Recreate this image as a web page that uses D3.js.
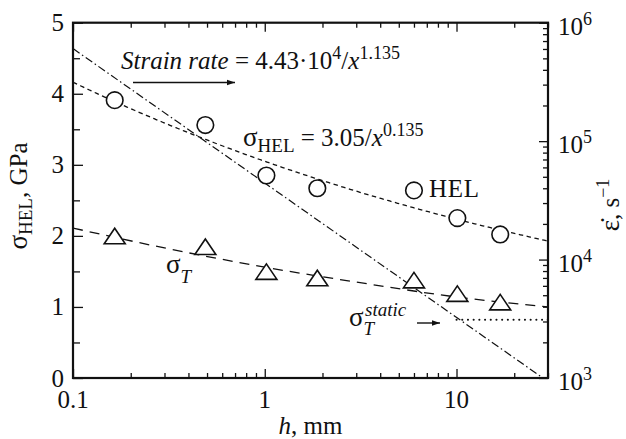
<!DOCTYPE html>
<html>
<head>
<meta charset="utf-8">
<script src="https://cdn.jsdelivr.net/npm/d3@7"></script>
<style>
  html, body { margin: 0; padding: 0; background: #fff; }
  #chart text { font-family: "Liberation Serif", "Times New Roman", "DejaVu Serif", serif; }
</style>
</head>
<body>
<svg id="chart" width="626" height="439"></svg>
<script>
// Measured HEL (circles) and spall strength sigma_T (triangles) vs thickness h, mm
const thickness = [0.165, 0.49, 1.02, 1.88, 6.0, 10.1, 16.9];
const helValues = [3.91, 3.56, 2.85, 2.67, 2.64, 2.25, 2.02];
const spallValues = [1.98, 1.83, 1.48, 1.39, 1.36, 1.17, 1.05];

// Trend of sigma_T (dashed)
const spallTrendH = [0.1, 0.3, 1, 3, 10, 30];
const spallTrendV = [2.11, 1.83, 1.56, 1.35, 1.14, 1.0];

// Fit coefficients as printed on the chart
const helFit = { a: 3.05, b: 0.135 };          // sigma_HEL = 3.05 / x^0.135
const rateFit = { a: 4.43e4, b: 1.135 };       // strain rate = 4.43e4 / x^1.135

// Static spall strength, drawn from h = 10 to 30 mm
const staticLevel = 0.82;
const staticRange = [10, 30];

// Axis ticks
const xMajor = [0.1, 1, 10];
const yLeftMajor = [0, 1, 2, 3, 4, 5];
const yRightMajorExp = [3, 4, 5, 6];

const svg = d3.select("#chart");
const L = 73, R = 548, T = 22.7, B = 378;
const ink = "#111";
const fs = 25, fsSup = 18, fsSub = 19, fsGreek = 27;

const x = d3.scaleLog().domain([0.1, 30]).range([L, R]);
const y = d3.scaleLinear().domain([0, 5]).range([B, T]);
const y2 = d3.scaleLog().domain([1e3, 1e6]).range([B, T]);

const defs = svg.append("defs");
defs.append("clipPath").attr("id", "plotClip")
  .append("rect").attr("x", L).attr("y", T).attr("width", R - L).attr("height", B - T);
defs.append("marker").attr("id", "arrow").attr("viewBox", "0 0 10 10")
  .attr("refX", 10).attr("refY", 5).attr("markerWidth", 12).attr("markerHeight", 8)
  .attr("markerUnits", "userSpaceOnUse").attr("orient", "auto")
  .append("path").attr("d", "M0,1.5 L10,5 L0,8.5 Z").attr("fill", ink);

// ---- Axes (ticks pointing inward on all four sides) ----
const xTickVals = d3.range(-1, 2)
  .flatMap(e => d3.range(1, 10).map(m => m * Math.pow(10, e)))
  .filter(v => v <= 30.0001);
const gB = svg.append("g").attr("transform", `translate(0,${B})`).call(
  d3.axisBottom(x).tickValues(xTickVals).tickSizeInner(-5).tickSizeOuter(0).tickFormat(""));
const gT = svg.append("g").attr("transform", `translate(0,${T})`).call(
  d3.axisTop(x).tickValues(xTickVals).tickSizeInner(-5).tickSizeOuter(0).tickFormat(""));
[gB, gT].forEach(g => {
  g.selectAll(".tick line").attr("stroke", ink).attr("stroke-width", 1.3)
    .filter(d => xMajor.some(m => Math.abs(m - d) < 1e-9))
    .attr("y2", g === gB ? -9 : 9);
});

const gL = svg.append("g").attr("transform", `translate(${L},0)`).call(
  d3.axisLeft(y).tickValues(d3.range(0, 5.01, 0.5)).tickSizeInner(-7).tickSizeOuter(0).tickFormat(""));
gL.selectAll(".tick line").attr("stroke", ink).attr("stroke-width", 1.3)
  .filter(d => Math.abs(d - Math.round(d)) < 1e-9).attr("x2", 10);

const rightTicks = d3.range(3, 6).flatMap(e => d3.range(1, 10).map(m => m * Math.pow(10, e))).concat([1e6]);
const gR = svg.append("g").attr("transform", `translate(${R},0)`).call(
  d3.axisRight(y2).tickValues(rightTicks).tickSizeInner(-5).tickSizeOuter(0).tickFormat(""));
gR.selectAll(".tick line").attr("stroke", ink).attr("stroke-width", 1.3)
  .filter(d => yRightMajorExp.some(e => Math.abs(Math.log10(d) - e) < 1e-9)).attr("x2", -9);

svg.selectAll(".domain").remove();
svg.append("rect").attr("x", L).attr("y", T).attr("width", R - L).attr("height", B - T)
  .attr("fill", "none").attr("stroke", ink).attr("stroke-width", 2.2);

// Tick labels
svg.append("g").selectAll("text").data(xMajor).join("text")
  .attr("x", d => x(d)).attr("y", 408).attr("text-anchor", "middle").attr("fill", ink)
  .attr("font-size", fs).text(d => d3.format("~g")(d));

svg.append("g").selectAll("text").data(yLeftMajor).join("text")
  .attr("x", L - 9).attr("y", d => y(d) + 8.5).attr("text-anchor", "end").attr("fill", ink)
  .attr("font-size", fs).text(d => d);

const rl = svg.append("g").selectAll("text").data(yRightMajorExp).join("text")
  .attr("x", R + 10).attr("y", d => y2(Math.pow(10, d)) + 12).attr("fill", ink).attr("font-size", fs);
rl.append("tspan").text("10");
rl.append("tspan").attr("dy", -10).attr("font-size", fsSup).text(d => d);

// Axis titles
const yTitle = svg.append("text").attr("transform", `translate(27,196) rotate(-90)`)
  .attr("text-anchor", "middle").attr("fill", ink).attr("font-size", fs);
yTitle.append("tspan").attr("font-size", fsGreek).text("σ");
yTitle.append("tspan").attr("dy", 5).attr("font-size", fsSub).text("HEL");
yTitle.append("tspan").attr("dy", -5).text(", GPa");

const y2Title = svg.append("text").attr("transform", `translate(619,205) rotate(-90)`)
  .attr("text-anchor", "middle").attr("fill", ink).attr("font-size", fs);
y2Title.append("tspan").attr("font-size", fsGreek).text("ε̇");
y2Title.append("tspan").text(", s");
y2Title.append("tspan").attr("dy", -10).attr("font-size", fsSup).text("−1");

const xTitle = svg.append("text").attr("x", (L + R) / 2).attr("y", 434)
  .attr("text-anchor", "middle").attr("fill", ink).attr("font-size", fs);
xTitle.append("tspan").attr("font-style", "italic").text("h");
xTitle.append("tspan").text(", mm");

// ---- Curves ----
const plot = svg.append("g").attr("clip-path", "url(#plotClip)");

// strain-rate fit (log-log straight line), right axis
const rateEnds = [0.1, 30].map(h => [h, rateFit.a / Math.pow(h, rateFit.b)]);
plot.append("path").datum(rateEnds)
  .attr("d", d3.line().x(d => x(d[0])).y(d => y2(d[1])))
  .attr("fill", "none").attr("stroke", ink).attr("stroke-width", 1.2)
  .attr("stroke-dasharray", "8,3,1.5,3");

// sigma_HEL fit
const helCurve = d3.range(0, 241).map(i => {
  const h = Math.pow(10, -1 + i * Math.log10(300) / 240);
  return [h, helFit.a / Math.pow(h, helFit.b)];
});
plot.append("path").datum(helCurve)
  .attr("d", d3.line().x(d => x(d[0])).y(d => y(d[1])))
  .attr("fill", "none").attr("stroke", ink).attr("stroke-width", 1.3)
  .attr("stroke-dasharray", "4.5,3.5");

// sigma_T trend
plot.append("path").datum(d3.zip(spallTrendH, spallTrendV))
  .attr("d", d3.line().x(d => x(d[0])).y(d => y(d[1])).curve(d3.curveMonotoneX))
  .attr("fill", "none").attr("stroke", ink).attr("stroke-width", 1.3)
  .attr("stroke-dasharray", "10,7");

// static level
plot.append("line")
  .attr("x1", x(staticRange[0])).attr("x2", x(staticRange[1]))
  .attr("y1", y(staticLevel)).attr("y2", y(staticLevel))
  .attr("stroke", ink).attr("stroke-width", 2).attr("stroke-linecap", "round")
  .attr("stroke-dasharray", "0.1,5.6");

// ---- Markers ----
svg.append("g").selectAll("circle").data(d3.zip(thickness, helValues)).join("circle")
  .attr("cx", d => x(d[0])).attr("cy", d => y(d[1])).attr("r", 8.3)
  .attr("fill", "#fff").attr("stroke", ink).attr("stroke-width", 1.6);

svg.append("g").selectAll("path").data(d3.zip(thickness, spallValues)).join("path")
  .attr("transform", d => `translate(${x(d[0])},${y(d[1])})`)
  .attr("d", "M0,-9 L10.5,6.5 L-10.5,6.5 Z")
  .attr("fill", "#fff").attr("stroke", ink).attr("stroke-width", 1.6);

// ---- Annotations ----
const rateLabel = svg.append("text").attr("x", 121).attr("y", 69).attr("fill", ink).attr("font-size", fs);
rateLabel.append("tspan").attr("font-style", "italic").text("Strain rate");
rateLabel.append("tspan").text(" = 4.43·10");
rateLabel.append("tspan").attr("dy", -10).attr("font-size", fsSup).text("4");
rateLabel.append("tspan").attr("dy", 10).text("/");
rateLabel.append("tspan").attr("font-style", "italic").text("x");
rateLabel.append("tspan").attr("dy", -10).attr("font-size", fsSup).text("1.135");
svg.append("line").attr("x1", 133).attr("x2", 235).attr("y1", 82.5).attr("y2", 82.5)
  .attr("stroke", ink).attr("stroke-width", 1.4).attr("marker-end", "url(#arrow)");

const helLabel = svg.append("text").attr("x", 243).attr("y", 146).attr("fill", ink).attr("font-size", fs);
helLabel.append("tspan").attr("font-size", fsGreek).text("σ");
helLabel.append("tspan").attr("dy", 6).attr("font-size", fsSub).text("HEL");
helLabel.append("tspan").attr("dy", -6).text(" = 3.05/");
helLabel.append("tspan").attr("font-style", "italic").text("x");
helLabel.append("tspan").attr("dy", -10).attr("font-size", fsSup).text("0.135");

svg.append("text").attr("x", 429).attr("y", 197).attr("fill", ink).attr("font-size", fs)
  .attr("textLength", 50).text("HEL");

const tLabel = svg.append("text").attr("x", 166).attr("y", 273).attr("fill", ink).attr("font-size", fs);
tLabel.append("tspan").attr("font-size", fsGreek).text("σ");
tLabel.append("tspan").attr("dy", 10).attr("font-size", fsSub).attr("font-style", "italic").text("T");

const sLabel = svg.append("text").attr("x", 349).attr("y", 326).attr("fill", ink).attr("font-size", fs);
sLabel.append("tspan").attr("font-size", fsGreek).text("σ");
sLabel.append("tspan").attr("dy", 9).attr("font-size", fsSub).attr("font-style", "italic").text("T");
svg.append("text").attr("x", 365).attr("y", 316).attr("fill", ink).attr("font-size", fsSub)
  .attr("font-style", "italic").text("static");
svg.append("line").attr("x1", 417).attr("x2", 440).attr("y1", 323).attr("y2", 323)
  .attr("stroke", ink).attr("stroke-width", 1.4).attr("marker-end", "url(#arrow)");
</script>
</body>
</html>
